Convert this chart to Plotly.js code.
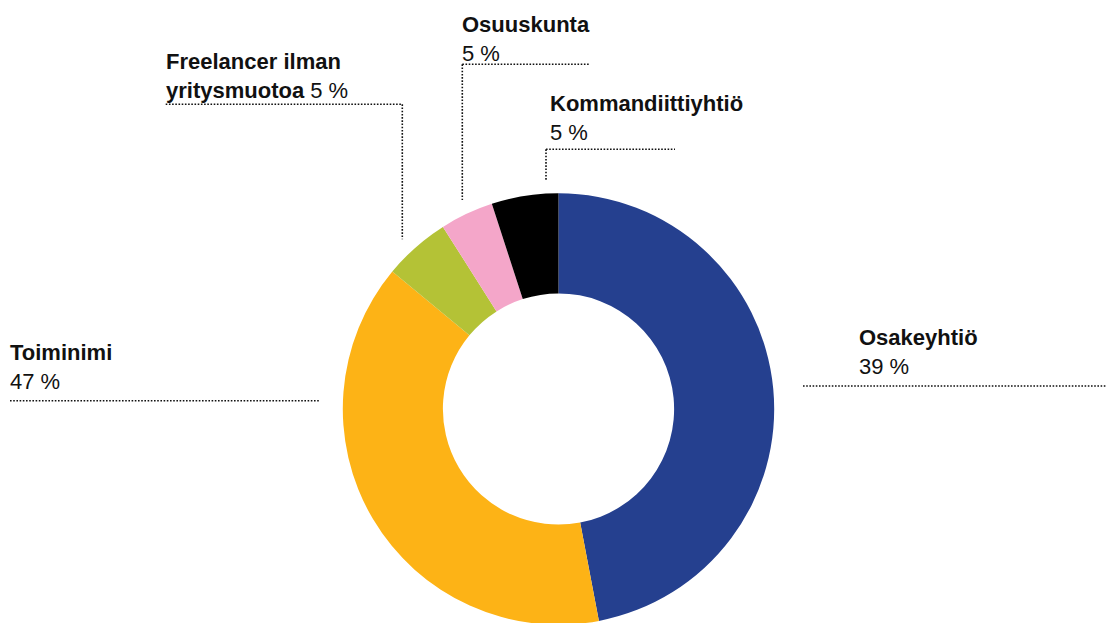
<!DOCTYPE html>
<html>
<head>
<meta charset="utf-8">
<script src="https://cdn.plot.ly/plotly-3.0.1.min.js"></script>
<style>
html,body{margin:0;padding:0;overflow:hidden;background:#fff;width:1106px;height:623px;}
#chart{width:1106px;height:640px;}
</style>
</head>
<body>
<div id="chart"></div>
<script>
// Data (clockwise from 12 o'clock)
const labels = ['Osakeyhtiö', 'Toiminimi', 'Freelancer ilman yritysmuotoa', 'Osuuskunta', 'Kommandiittiyhtiö'];
const sliceValues = [47, 39, 5, 4, 5];
const shownPercents = ['39 %', '47 %', '5 %', '5 %', '5 %'];
const colors = ['#25408f', '#fdb316', '#b4c236', '#f4a6c9', '#000000'];

const W = 1106, H = 640;
const px = x => x / W;
const py = y => 1 - y / H;

// Donut placement (pixels)
const cx = 558.5, cy = 409, R = 215.7;

const trace = {
  type: 'pie',
  labels: labels,
  values: sliceValues,
  marker: {colors: colors, line: {width: 0}},
  hole: 0.536,
  sort: false,
  direction: 'clockwise',
  rotation: 0,
  textinfo: 'none',
  hoverinfo: 'label+percent',
  showlegend: false,
  domain: {x: [px(cx - R), px(cx + R)], y: [py(cy + R), py(cy - R)]}
};

const FONT = 'Liberation Sans, Arial, sans-serif';
const fs = 22;

const labelTexts = [
  '<b>' + labels[0] + '</b><br>' + shownPercents[0],
  '<b>' + labels[1] + '</b><br>' + shownPercents[1],
  '<b>Freelancer ilman</b><br><b>yritysmuotoa</b> ' + shownPercents[2],
  '<b>' + labels[3] + '</b><br>' + shownPercents[3],
  '<b>' + labels[4] + '</b><br>' + shownPercents[4]
];
// text left x and baseline of last text line (pixels)
const labelPos = [
  {x: 859, base: 373.3},
  {x: 10, base: 388.3},
  {x: 165.7, base: 97.7},
  {x: 462.3, base: 60},
  {x: 550, base: 139.3}
];

const annotations = labelTexts.map((t, i) => ({
  xref: 'paper', yref: 'paper',
  x: px(labelPos[i].x - 2), y: py(labelPos[i].base + 7.5),
  xanchor: 'left', yanchor: 'bottom', align: 'left',
  showarrow: false,
  text: t,
  font: {family: FONT, size: fs, color: '#111'}
}));

const dotLine = {color: '#111', width: 1.6, dash: '1.6px,1.6px'};
const seg = (x0, y0, x1, y1) => ({type: 'line', xref: 'paper', yref: 'paper',
  x0: px(x0), y0: py(y0), x1: px(x1), y1: py(y1), line: dotLine});

const shapes = [
  seg(803, 386, 1106, 386),
  seg(10, 400.7, 320, 400.7),
  seg(165.7, 104.3, 402.3, 104.3), seg(402.3, 104.3, 402.3, 239.3),
  seg(462.3, 64.3, 589.3, 64.3), seg(462.3, 64.3, 462.3, 200),
  seg(546, 149.3, 675, 149.3), seg(546, 149.3, 546, 180)
];

const layout = {
  width: W, height: H,
  margin: {l: 0, r: 0, t: 0, b: 0},
  paper_bgcolor: '#ffffff',
  plot_bgcolor: '#ffffff',
  annotations: annotations,
  shapes: shapes,
  font: {family: FONT}
};

Plotly.newPlot('chart', [trace], layout, {displayModeBar: false, staticPlot: true});
</script>
</body>
</html>
